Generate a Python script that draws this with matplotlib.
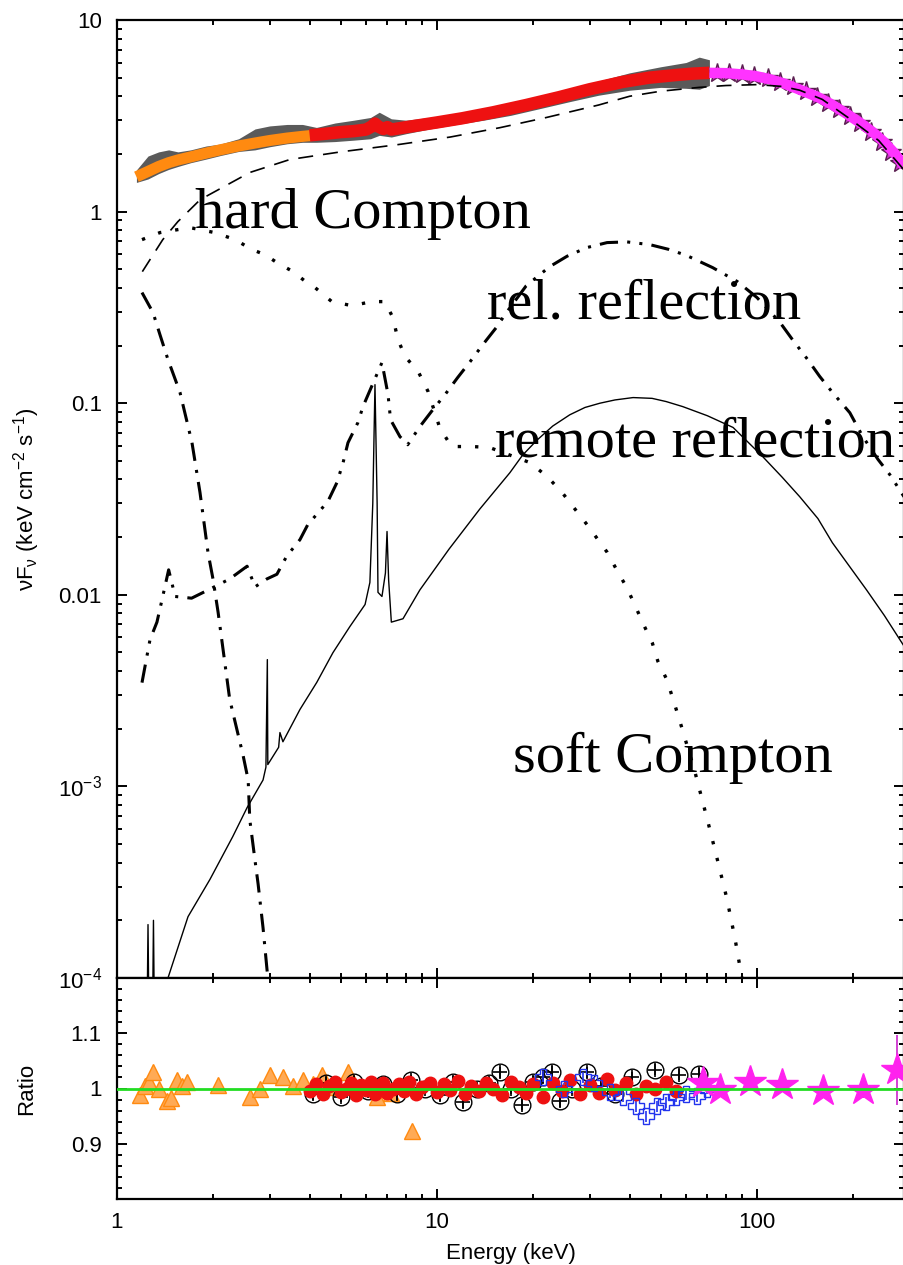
import matplotlib
matplotlib.use("Agg")
import matplotlib.pyplot as plt
from matplotlib.ticker import LogLocator, FixedLocator, FixedFormatter, MultipleLocator, NullFormatter

plt.rcParams['font.family'] = ['Liberation Sans', 'DejaVu Sans']
plt.rcParams['mathtext.fontset'] = 'custom'
plt.rcParams['mathtext.rm'] = 'Liberation Sans'
plt.rcParams['mathtext.it'] = 'Liberation Sans'

# --- total model, split by instrument band ---
orange_e = [1.15, 1.25, 1.35, 1.45, 1.55, 1.7, 1.9, 2.1, 2.4, 2.7, 3.0, 3.4, 3.8, 4.1]
orange_f = [1.52, 1.62, 1.72, 1.80, 1.86, 1.93, 2.02, 2.10, 2.20, 2.28, 2.35, 2.42, 2.47, 2.50]
red_e = [4.0, 4.5, 5.0, 5.5, 6.0, 6.25, 6.4, 6.55, 6.8, 7.0, 7.2, 7.6, 8.5, 10, 12, 15, 19, 24, 30, 38, 46, 55, 63, 71]
red_f = [2.50, 2.55, 2.60, 2.63, 2.68, 2.78, 2.88, 2.78, 2.70, 2.76, 2.68, 2.72, 2.80, 2.92, 3.07, 3.30, 3.60,
         3.95, 4.35, 4.75, 5.00, 5.15, 5.25, 5.30]
mag_e = [71, 80, 90, 100, 110, 122, 135, 154, 170, 190, 210, 230, 250, 270, 290]
mag_f = [5.30, 5.28, 5.20, 5.08, 4.90, 4.65, 4.35, 3.98, 3.65, 3.25, 2.91, 2.60, 2.30, 2.00, 1.70]

# spectral data (grey band) and high-energy points
data_e = [1.15, 1.25, 1.35, 1.45, 1.55, 1.7, 1.9, 2.1, 2.4, 2.7, 3.0, 3.4, 3.8, 4.2, 4.8, 5.5, 6.2, 6.6,
          7.2, 8.0, 9.5, 11.5, 14, 17, 21, 26, 32, 40, 50, 60, 66, 71]
data_hi = [1.65, 1.95, 2.05, 2.10, 2.05, 2.10, 2.20, 2.25, 2.40, 2.70, 2.80, 2.85, 2.85, 2.75, 2.90, 3.00, 3.10,
           3.30, 3.05, 3.00, 3.10, 3.25, 3.40, 3.65, 3.95, 4.35, 4.80, 5.30, 5.70, 6.00, 6.40, 6.20]
data_lo = [1.42, 1.48, 1.58, 1.66, 1.72, 1.80, 1.88, 1.96, 2.06, 2.10, 2.18, 2.26, 2.30, 2.30, 2.32, 2.36, 2.40,
           2.50, 2.45, 2.55, 2.70, 2.85, 3.00, 3.18, 3.45, 3.75, 4.05, 4.30, 4.45, 4.40, 4.35, 4.55]
star_e = [75, 82, 90, 98, 108, 118, 130, 142, 154, 167, 180, 195, 210, 227, 245, 262, 279]
star_f = [5.30, 5.27, 5.20, 5.10, 5.00, 4.75, 4.50, 4.25, 3.98, 3.70, 3.45, 3.15, 2.91, 2.60, 2.30, 2.05, 1.80]

# --- model components ---
hard_e = [1.2, 1.39, 1.55, 1.82, 2.6, 3.47, 5, 7.6, 11, 15.7, 22, 32, 40, 50, 66, 80, 100, 120, 136, 160, 195,
          240, 288]
hard_f = [0.486, 0.714, 0.887, 1.155, 1.6, 1.87, 2.05, 2.24, 2.45, 2.74, 3.1, 3.6, 4.0, 4.25, 4.45, 4.55, 4.6,
          4.5, 4.3, 3.85, 3.05, 2.35, 1.65]

soft_e = [1.197, 1.362, 1.69, 2.02, 2.34, 2.64, 2.90, 3.16, 3.55, 3.92, 4.16, 4.69, 5.42, 6.26, 6.87, 7.28, 7.55,
          7.95, 8.74, 9.38, 10.2, 11.1, 12.9, 14.6, 19.5, 22.1, 24.6, 29.4, 34.0, 36.7, 39.2, 41.7, 44.2, 47.1,
          49.0, 52.3, 56.9, 63.9, 70.3, 75.6, 80.5, 85.4, 89.7, 95.0]
soft_f = [0.714, 0.777, 0.825, 0.777, 0.714, 0.634, 0.596, 0.542, 0.486, 0.426, 0.401, 0.339, 0.323, 0.339,
          0.339, 0.280, 0.215, 0.175, 0.146, 0.115, 0.0744, 0.0594, 0.0594, 0.0587, 0.049, 0.0414, 0.0342,
          0.0233, 0.0167, 0.0132, 0.0109, 0.0087, 0.0070, 0.0056, 0.0045, 0.0036, 0.0023, 0.0012, 6.5e-4,
          4.0e-4, 2.6e-4, 1.6e-4, 1.0e-4, 6.8e-5]

disk_e = [1.197, 1.296, 1.362, 1.443, 1.573, 1.715, 1.817, 1.925, 1.995, 2.07, 2.25, 2.48, 2.57, 2.60, 2.70,
          2.76, 2.86, 2.96, 3.05]
disk_f = [0.378, 0.297, 0.228, 0.169, 0.114, 0.0623, 0.0342, 0.0166, 0.0121, 0.0081, 0.00285, 0.00144,
          0.00108, 6.7e-4, 4.1e-4, 3.1e-4, 1.83e-4, 1.0e-4, 5.0e-5]

rel_e = [1.197, 1.268, 1.333, 1.382, 1.45, 1.52, 1.71, 1.95, 2.25, 2.55, 2.70, 2.94, 3.16, 3.39, 3.73, 3.95,
         4.21, 4.56, 4.87, 5.09, 5.27, 5.66, 5.87, 6.73, 7.03, 7.16, 7.66, 8.1, 8.84, 9.72, 10.6, 11.6, 12.7,
         13.9, 15.4, 16.3, 19.0, 22.5, 25.5, 29.4, 34.0, 39.2, 46.3, 53, 60.3, 72.7, 86.7, 100, 118, 129, 144,
         157, 172, 195, 214, 239, 260, 288]
rel_f = [0.00348, 0.00583, 0.0072, 0.0094, 0.0135, 0.0098, 0.0096, 0.0107, 0.0121, 0.0141, 0.0110, 0.0121,
         0.0128, 0.0159, 0.0194, 0.0233, 0.0263, 0.0307, 0.0386, 0.0491, 0.0622, 0.0792, 0.096, 0.163, 0.111,
         0.082, 0.0669, 0.0607, 0.0755, 0.0928, 0.111, 0.136, 0.165, 0.202, 0.251, 0.290, 0.41, 0.516, 0.585,
         0.649, 0.689, 0.695, 0.672, 0.635, 0.590, 0.510, 0.432, 0.356, 0.264, 0.215, 0.169, 0.138, 0.114,
         0.0892, 0.067, 0.0508, 0.0424, 0.0325]

remote_e = [1.24, 1.25, 1.26, 1.29, 1.30, 1.31, 1.443, 1.667, 1.952, 2.30, 2.55, 2.86, 2.92, 2.95, 2.96, 3.20,
            3.23, 3.30, 3.73, 4.21, 4.73, 5.34, 5.96, 6.17, 6.30, 6.40, 6.50, 6.54, 6.73, 6.90, 6.98, 7.06, 7.20,
            7.83, 8.84, 10.9, 13.6, 16.9, 18.5, 20.5, 23, 26, 29, 32.3, 36, 41, 47, 52, 58.6, 70, 84.2, 104, 120,
            136, 155, 172, 195, 220, 250, 288]
remote_f = [5e-5, 1.9e-4, 5e-5, 5e-5, 2.0e-4, 5e-5, 1.0e-4, 2.09e-4, 3.27e-4, 5.47e-4, 7.75e-4, 1.08e-3,
            1.26e-3, 4.59e-3, 1.3e-3, 1.6e-3, 1.91e-3, 1.71e-3, 2.52e-3, 3.49e-3, 4.99e-3, 6.82e-3, 8.9e-3,
            1.16e-2, 0.03, 0.125, 0.03, 1.03e-2, 9.8e-3, 0.013, 0.0214, 0.012, 7.2e-3, 7.5e-3, 0.0106, 0.0173,
            0.028, 0.0434, 0.0535, 0.064, 0.076, 0.087, 0.095, 0.1, 0.104, 0.107, 0.106, 0.102, 0.096, 0.086,
            0.0747, 0.0528, 0.041, 0.0325, 0.025, 0.0187, 0.014, 0.0106, 0.0078, 0.0054]

# --- residuals ---
tri_e = [1.18, 1.22, 1.26, 1.30, 1.35, 1.43, 1.48, 1.54, 1.60, 1.65, 2.07, 2.60, 2.80, 3.01, 3.30, 3.55, 3.81,
         4.10, 4.37, 4.8, 5.27, 5.8, 6.5, 7.2, 8.35]
tri_r = [0.989, 1.005, 1.012, 1.029, 1.0, 0.977, 0.982, 1.016, 1.004, 1.011, 1.007, 0.984, 1.0, 1.025, 1.021,
         1.004, 1.016, 1.008, 1.025, 1.003, 1.03, 1.002, 0.984, 0.992, 0.923]
circ_e = [4.1, 4.5, 5.0, 5.5, 6.1, 6.8, 7.5, 8.3, 9.2, 10.2, 11.2, 12.1, 13.3, 14.5, 15.7, 17.0, 18.4, 20.0,
          21.5, 22.9, 24.2, 26.5, 29.4, 32.5, 36.0, 40.6, 48.0, 57.0, 66.0]
circ_r = [0.99, 1.01, 0.985, 1.012, 0.995, 1.008, 0.99, 1.015, 1.0, 0.988, 1.012, 0.975, 1.0, 1.01, 1.029, 1.0,
          0.971, 1.012, 1.02, 1.03, 0.977, 1.0, 1.029, 1.005, 0.99, 1.02, 1.034, 1.025, 1.027]
pn_e = [4.0, 4.2, 4.4, 4.6, 4.8, 5.0, 5.2, 5.4, 5.6, 5.8, 6.0, 6.2, 6.4, 6.6, 6.8, 7.0, 7.3, 7.6, 7.9, 8.2, 8.6,
        9.0, 9.5, 10, 10.5, 11, 11.6, 12.2, 12.8, 13.5, 14.2, 15, 16, 17, 18, 19, 20, 21.5, 23, 24.5, 26, 28, 30,
        32, 34, 36, 39, 42, 45, 48, 52, 56]
pn_r = [0.995, 1.008, 0.99, 1.004, 1.012, 0.993, 1.0, 1.01, 0.988, 1.006, 0.997, 1.012, 0.99, 1.005, 1.01,
        0.992, 1.0, 1.008, 0.995, 1.012, 0.99, 1.003, 1.01, 0.994, 1.008, 0.998, 1.013, 0.99, 1.005, 0.995, 1.01,
        1.0, 0.988, 1.012, 1.002, 0.992, 1.008, 0.985, 1.01, 0.996, 1.015, 0.99, 1.006, 0.992, 1.018, 0.997,
        1.01, 0.99, 1.005, 1.0, 1.012, 0.995]
blue_e = [21.5, 25, 28.6, 31, 34.7, 38, 42, 45, 48.6, 52, 56, 60, 65, 70]
blue_r = [1.021, 1.0, 1.02, 1.01, 0.993, 0.985, 0.968, 0.95, 0.968, 0.975, 0.985, 0.99, 0.986, 1.0]
hx_e = [68, 76.6, 95, 120, 161, 214, 273]
hx_r = [1.01, 0.998, 1.011, 1.007, 0.995, 0.998, 1.034]
hx_err = [0.01, 0.01, 0.012, 0.012, 0.012, 0.015, 0.063]

y_ticks = [1e-4, 1e-3, 0.01, 0.1, 1, 10]
y_labels = [r'10$^{-4}$', r'10$^{-3}$', '0.01', '0.1', '1', '10']

W, H = 904, 1265
fig = plt.figure(figsize=(W / 100, H / 100), dpi=100)
ax = fig.add_axes([117 / W, 1 - 978 / H, (W - 117) / W, 958 / H])
axr = fig.add_axes([117 / W, 1 - 1199 / H, (W - 117) / W, 221 / H], sharex=ax)

# top panel
ax.fill_between(data_e, data_lo, data_hi, color='#5a5a5a', lw=0, zorder=1)
ax.plot(star_e, star_f, ls='none', marker='*', ms=15, mfc='#cc33cc', mec='#5a2050', mew=1, zorder=2)
ax.plot(orange_e, orange_f, color='#ff8a10', lw=8, solid_capstyle='butt', zorder=3)
ax.plot(red_e, red_f, color='#ee1111', lw=9, solid_capstyle='butt', zorder=3)
ax.plot(mag_e, mag_f, color='#ff33ff', lw=7.5, solid_capstyle='butt', zorder=3)

ax.plot(hard_e, hard_f, color='k', lw=1.2, dashes=(9, 6), zorder=4)
ax.plot(soft_e, soft_f, color='k', lw=2.4, dashes=(1, 4.2), zorder=4)
ax.plot(disk_e, disk_f, color='k', lw=2.2, dashes=(6, 3, 1, 3), zorder=4)
ax.plot(rel_e, rel_f, color='k', lw=2.2, dashes=(6, 3, 1, 3, 1, 3), zorder=4)
ax.plot(remote_e, remote_f, color='k', lw=1.0, zorder=4)

serif = dict(family=['Liberation Serif', 'DejaVu Serif'], fontsize=42, va='baseline', zorder=6)
ax.text(1.75, 0.825, 'hard Compton', **serif)
ax.text(14.3, 0.276, 'rel. reflection', **serif)
ax.text(15.2, 0.0527, 'remote reflection', **serif)
ax.text(17.3, 0.00119, 'soft Compton', **serif)

ax.set_xscale('log')
ax.set_yscale('log')
ax.set_xlim(1, 288)
ax.set_ylim(1e-4, 10)
ax.yaxis.set_major_locator(FixedLocator(y_ticks))
ax.yaxis.set_major_formatter(FixedFormatter(y_labels))
ax.yaxis.set_minor_locator(LogLocator(base=10, subs=range(2, 10), numticks=20))
ax.yaxis.set_minor_formatter(NullFormatter())
ax.set_ylabel(r'νF$_{ν}$ (keV cm$^{-2}$ s$^{-1}$)', fontsize=16)
ax.yaxis.set_label_coords(-0.095, 0.5)
plt.setp(ax.get_xticklabels(), visible=False)

# residual panel
err = dict(ls='none', elinewidth=1.2, capsize=0)
axr.errorbar(tri_e, tri_r, yerr=0.008, marker='^', ms=11, mfc='#ffaa55', mec='#ff8a10', ecolor='#ff8a10',
             zorder=2, **err)
axr.errorbar(circ_e, circ_r, yerr=0.01, marker='o', ms=12, mfc='none', mec='k', ecolor='k', zorder=3, **err)
axr.plot(circ_e, circ_r, ls='none', marker='+', ms=10, mec='k', mew=1.2, zorder=3)
axr.errorbar(pn_e, pn_r, yerr=0.01, marker='o', ms=9, mfc='#ee1111', mec='#ee1111', ecolor='#ee1111',
             zorder=4, **err)
axr.errorbar(blue_e, blue_r, yerr=0.01, marker='P', ms=11, mfc='none', mec='#2233ee', ecolor='#2233ee',
             zorder=4, **err)
axr.errorbar(hx_e, hx_r, yerr=hx_err, marker='*', ms=24, mfc='#ff22ee', mec='#ff22ee', ecolor='#cc22cc',
             zorder=5, **err)
axr.axhline(1.0, color='#22dd22', lw=2, zorder=6)

axr.set_ylim(0.8, 1.2)
axr.yaxis.set_major_locator(FixedLocator([0.9, 1.0, 1.1]))
axr.yaxis.set_major_formatter(FixedFormatter(['0.9', '1', '1.1']))
axr.yaxis.set_minor_locator(MultipleLocator(0.02))
axr.xaxis.set_major_locator(FixedLocator([1, 10, 100]))
axr.xaxis.set_major_formatter(FixedFormatter(['1', '10', '100']))
axr.xaxis.set_minor_locator(LogLocator(base=10, subs=range(2, 10), numticks=20))
axr.xaxis.set_minor_formatter(NullFormatter())
axr.set_ylabel('Ratio', fontsize=16)
axr.yaxis.set_label_coords(-0.102, 0.5)
axr.set_xlabel('Energy (keV)', fontsize=16)
axr.xaxis.set_label_coords(0.5, -0.2)

for a in (ax, axr):
    a.tick_params(which='both', direction='in', top=True, right=True, width=1.4, labelsize=16)
    a.tick_params(which='major', length=7)
    a.tick_params(which='minor', length=3.5)
    a.tick_params(axis='y', pad=11)
    a.tick_params(axis='x', pad=9)
    for s in a.spines.values():
        s.set_linewidth(1.6)

fig.savefig('out.png', dpi=100)
